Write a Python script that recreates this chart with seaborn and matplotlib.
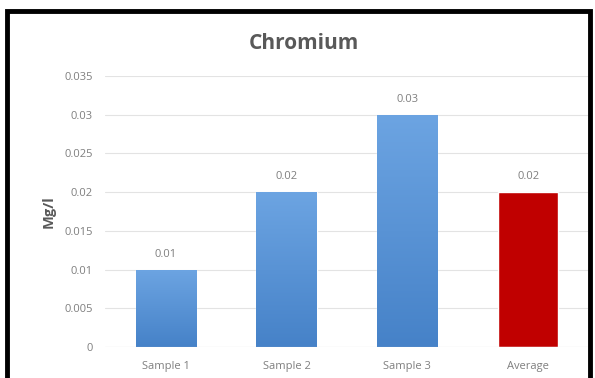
import pandas as pd
import numpy as np
import matplotlib
matplotlib.use('Agg')
import matplotlib.pyplot as plt
import seaborn as sns
from matplotlib.lines import Line2D
from matplotlib.colors import LinearSegmentedColormap

samples = ['Sample 1', 'Sample 2', 'Sample 3', 'Average']
chromium = [0.01, 0.02, 0.03, 0.02]
bar_colors = ['#5b95d8', '#5b95d8', '#5b95d8', '#c00000']
yticks = [0, 0.005, 0.01, 0.015, 0.02, 0.025, 0.03, 0.035]

df = pd.DataFrame({'sample': samples, 'value': chromium})

sns.set_style('white')
plt.rcParams['font.family'] = ['Open Sans', 'DejaVu Sans']

fig = plt.figure(figsize=(5.95, 3.78), dpi=100)
ax = fig.add_axes([0.177, 0.082, 0.812, 0.717])

sns.barplot(data=df, x='sample', y='value', hue='sample', palette=bar_colors,
            width=0.5, legend=False, ax=ax, saturation=1)

# soft vertical gradient on the blue bars, like the Excel original
blue_grad = LinearSegmentedColormap.from_list('bg', ['#4682c8', '#6ca4e2'])
for patch, col in zip(ax.patches, bar_colors):
    if col != '#5b95d8':
        continue
    x0, y0 = patch.get_x(), patch.get_y()
    w, h = patch.get_width(), patch.get_height()
    im = ax.imshow(np.linspace(0, 1, 100).reshape(-1, 1), cmap=blue_grad,
                   origin='lower', extent=[x0, x0 + w, y0, y0 + h],
                   aspect='auto', zorder=patch.get_zorder() + 0.1)
    im.set_clip_path(patch)
ax.set_xlim(-0.5, 3.5)

ax.set_ylim(0, 0.035)
ax.set_yticks(yticks)
ax.set_yticklabels(['0' if t == 0 else f'{t:g}' for t in yticks])
ax.yaxis.grid(True, color='#e3e3e3', linewidth=0.8)
ax.set_axisbelow(True)
for s in ax.spines.values():
    s.set_visible(False)
ax.axhline(0, color='#d9d9d9', linewidth=0.8)
ax.tick_params(axis='both', length=0, labelsize=8, labelcolor='#7f7f7f')
ax.tick_params(axis='y', pad=9)
ax.tick_params(axis='x', pad=10)
ax.set_xlabel('')
ax.set_ylabel('Mg/l', fontsize=10.5, fontweight='bold', color='#595959', labelpad=6)

for c in ax.containers:
    ax.bar_label(c, labels=[f'{v:g}' for v in c.datavalues], padding=7,
                 fontsize=8, color='#7f7f7f')

fig.text(0.51, 0.885, 'Chromium', ha='center', va='center', fontsize=15,
         fontweight='bold', color='#595959')

# black frame around the chart (bottom edge cropped off)
fig.add_artist(Line2D([0.012, 0.012, 0.992, 0.992], [0.0, 0.97, 0.97, 0.0],
                      transform=fig.transFigure, color='black', linewidth=3.5,
                      solid_joinstyle='miter'))

fig.savefig('out.png', dpi=100)
